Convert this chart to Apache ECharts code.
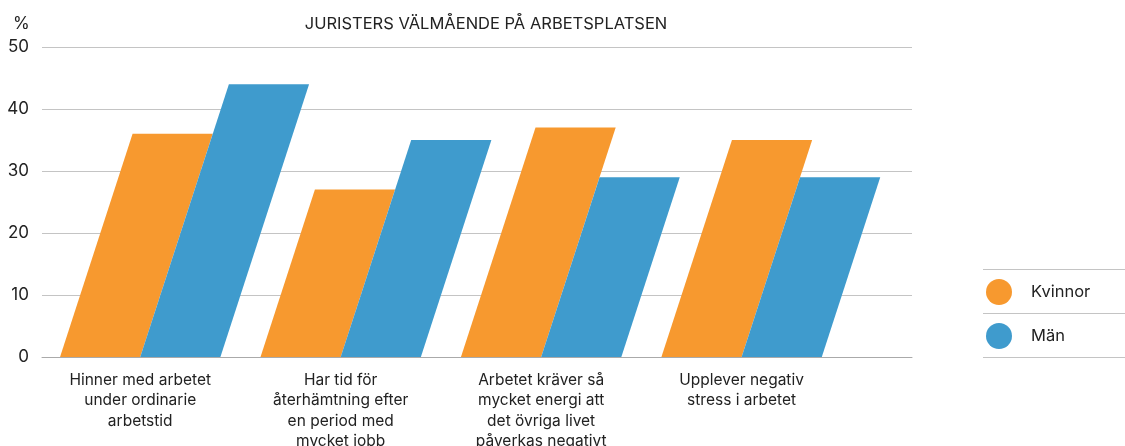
<!DOCTYPE html>
<html>
<head>
    <meta charset="UTF-8">
    <title>Juristers välmående</title>
    <script src="https://cdn.jsdelivr.net/npm/echarts@6/dist/echarts.min.js"></script>
    <style>
        html, body { margin: 0; padding: 0; background: #fff; }
        #chart { width: 1125px; height: 446px; }
    </style>
</head>
<body>
    <div id="chart"></div>
    <script type="text/javascript">
        var categories = [
            'Hinner med arbetet\nunder ordinarie\narbetstid',
            'Har tid för\nåterhämtning efter\nen period med\nmycket jobb',
            'Arbetet kräver så\nmycket energi att\ndet övriga livet\npåverkas negativt',
            'Upplever negativ\nstress i arbetet'
        ];
        var seriesNames = ['Kvinnor', 'Män'];
        var kvinnor = [36, 27, 37, 35];
        var man = [44, 35, 29, 29];
        var yTicks = [0, 10, 20, 30, 40, 50];

        var colors = ['#f7992f', '#3f9bcd'];
        var fontFamily = 'Inter, "Noto Sans", sans-serif';
        var slope = 0.325;  // horizontal lean of each bar per px of height
        var barW = 0.4;     // bar width in category units

        function slantBar(side) {
            return function (params, api) {
                var cat = api.value(0);
                var base = api.coord([cat, 0]);
                var top = api.coord([cat, api.value(1)]);
                var w = api.size([barW, 0])[0];
                var x0 = side === 0 ? base[0] - w : base[0];
                var shift = slope * (base[1] - top[1]);
                return {
                    type: 'polygon',
                    shape: {
                        points: [
                            [x0, base[1]],
                            [x0 + w, base[1]],
                            [x0 + w + shift, top[1]],
                            [x0 + shift, top[1]]
                        ]
                    },
                    style: { fill: colors[side] }
                };
            };
        }

        function toData(arr) {
            return arr.map(function (v, i) { return [i, v]; });
        }

        var chart = echarts.init(document.getElementById('chart'));
        chart.setOption({
            animation: false,
            textStyle: { fontFamily: fontFamily },
            title: [
                {
                    text: 'JURISTERS VÄLMÅENDE PÅ ARBETSPLATSEN',
                    left: 486,
                    textAlign: 'center',
                    top: 16,
                    padding: 0,
                    textStyle: { fontFamily: fontFamily, fontSize: 16.5, fontWeight: 'normal', color: '#222' }
                },
                {
                    text: '%',
                    left: 13,
                    top: 15,
                    padding: 0,
                    textStyle: { fontFamily: fontFamily, fontSize: 17, fontWeight: 'normal', color: '#222' }
                }
            ],
            legend: {
                orient: 'vertical',
                left: 986,
                top: 279,
                padding: 0,
                itemWidth: 26,
                itemHeight: 26,
                itemGap: 18,
                icon: 'circle',
                data: seriesNames,
                textStyle: { fontFamily: fontFamily, fontSize: 16.5, color: '#222', padding: [0, 0, 0, 14] }
            },
            graphic: [
                { type: 'line', shape: { x1: 983, y1: 269.5, x2: 1125, y2: 269.5 }, style: { stroke: '#c4c4c4', lineWidth: 1 } },
                { type: 'line', shape: { x1: 983, y1: 313.5, x2: 1125, y2: 313.5 }, style: { stroke: '#c4c4c4', lineWidth: 1 } },
                { type: 'line', shape: { x1: 983, y1: 357.5, x2: 1125, y2: 357.5 }, style: { stroke: '#c4c4c4', lineWidth: 1 } }
            ],
            grid: { left: 42, right: 213, top: 47, bottom: 89, containLabel: false, outerBoundsMode: 'none' },
            xAxis: {
                type: 'value',
                min: -0.49,
                max: 3.85,
                splitLine: { show: false },
                axisTick: { show: false },
                axisLine: { show: true, lineStyle: { color: '#aaa', width: 1 } },
                axisLabel: {
                    customValues: [0, 1, 2, 3],
                    formatter: function (v) { return categories[Math.round(v)] || ''; },
                    fontFamily: fontFamily,
                    fontSize: 15.5,
                    lineHeight: 20.5,
                    color: '#222',
                    margin: 13
                }
            },
            yAxis: {
                type: 'value',
                min: yTicks[0],
                max: yTicks[yTicks.length - 1],
                interval: 10,
                axisLine: { show: false },
                axisTick: { show: false },
                splitLine: { lineStyle: { color: '#c4c4c4', width: 1 } },
                axisLabel: { fontFamily: fontFamily, fontSize: 17, color: '#222', margin: 13 }
            },
            series: [
                {
                    name: seriesNames[0],
                    type: 'custom',
                    itemStyle: { color: colors[0] },
                    renderItem: slantBar(0),
                    encode: { x: 0, y: 1 },
                    data: toData(kvinnor)
                },
                {
                    name: seriesNames[1],
                    type: 'custom',
                    itemStyle: { color: colors[1] },
                    renderItem: slantBar(1),
                    encode: { x: 0, y: 1 },
                    data: toData(man)
                }
            ]
        });
    </script>
</body>
</html>
